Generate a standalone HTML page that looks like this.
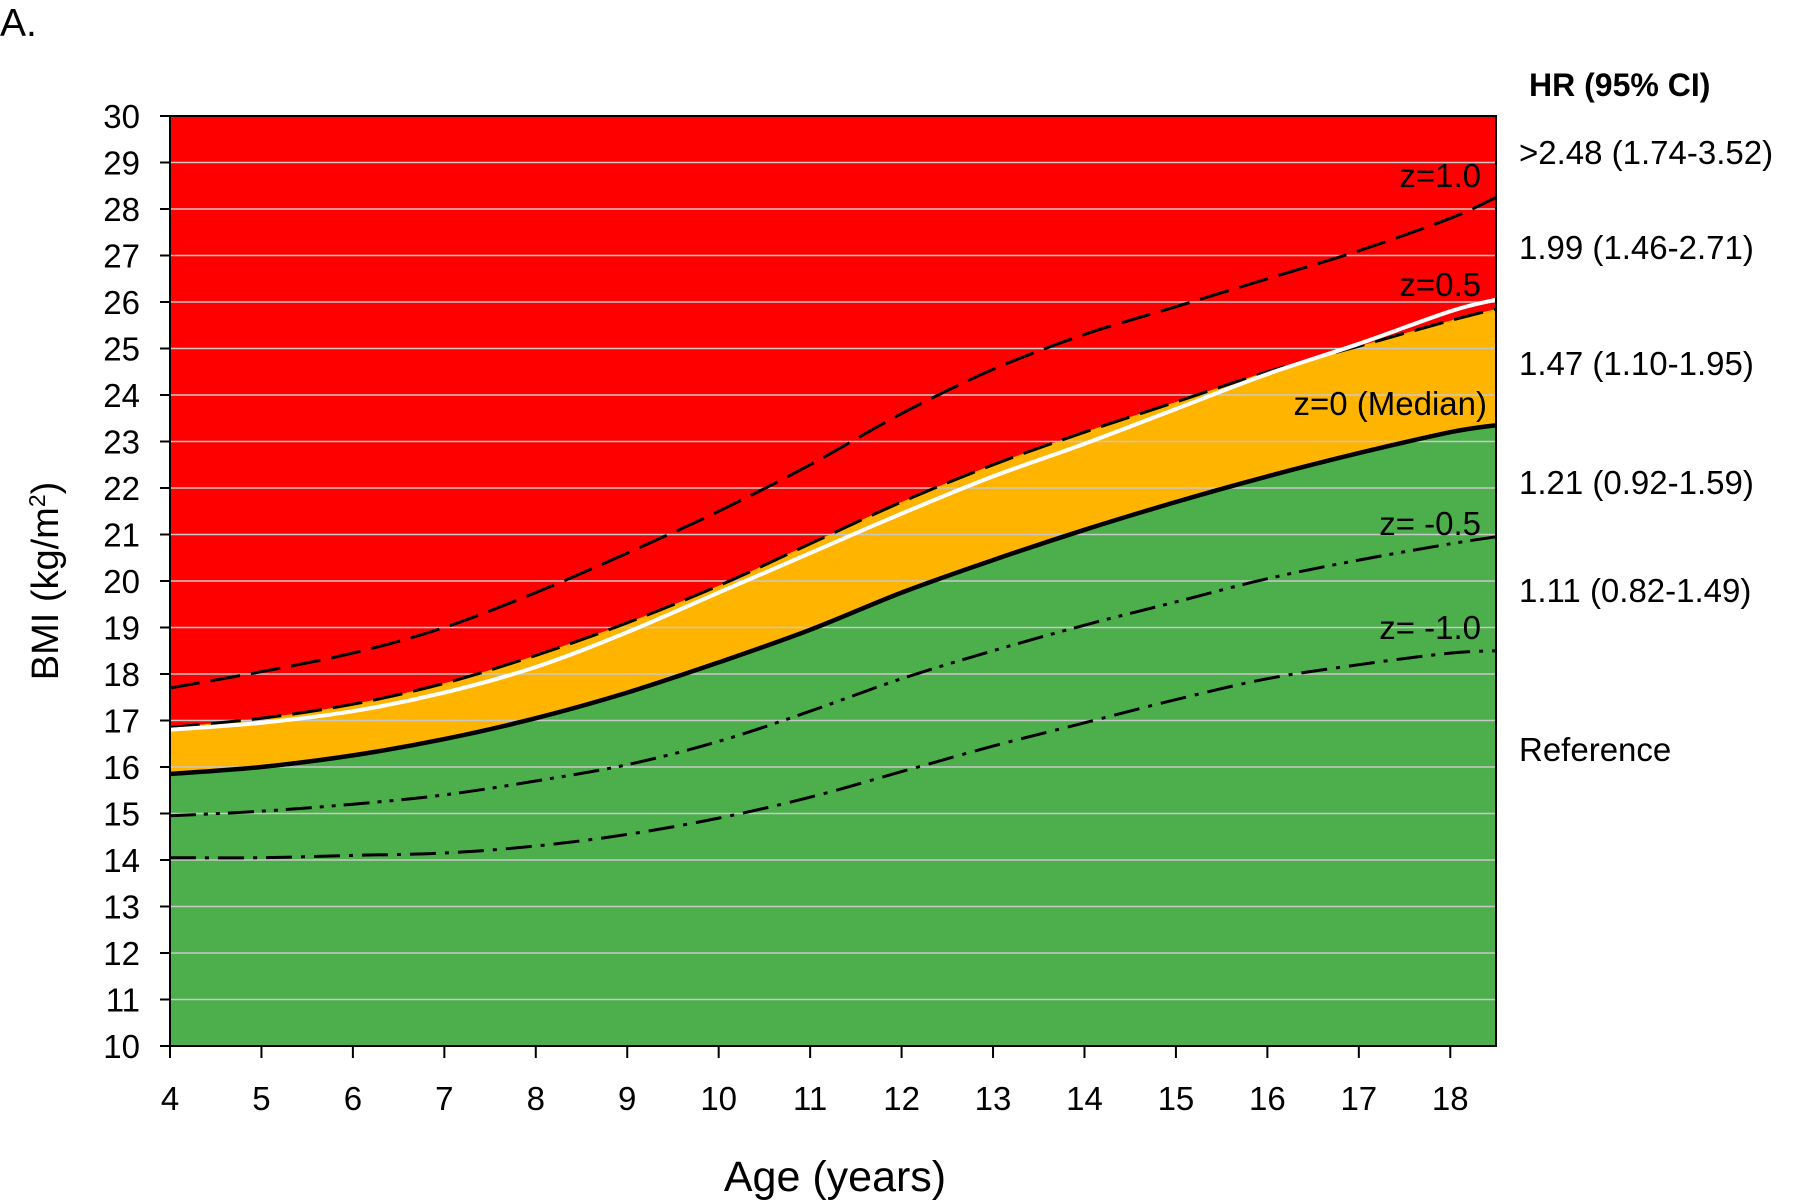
<!DOCTYPE html>
<html><head><meta charset="utf-8"><style>
body{margin:0;background:#fff;}
svg{display:block;font-family:"Liberation Sans",Arial,sans-serif;}
</style></head><body>
<svg id="chart" width="1800" height="1202" viewBox="0 0 1800 1202" xmlns="http://www.w3.org/2000/svg">
<text x="0" y="36" font-size="39">A.</text>
<g id="plot"></g>
<text transform="translate(58,581) rotate(-90)" text-anchor="middle" font-size="38">BMI (kg/m<tspan baseline-shift="super" font-size="23">2</tspan>)</text>
<text x="835" y="1191" text-anchor="middle" font-size="43">Age (years)</text>
<text x="1529" y="96" font-size="32" font-weight="bold">HR (95% CI)</text>
<g id="hr" font-size="33"></g>
<g id="zlabels" font-size="33" text-anchor="end"></g>
</svg>
<script>
const ages=[4,5,6,7,8,9,10,11,12,13,14,15,16,17,18,18.5];
const zMed=[15.85,16.0,16.25,16.6,17.05,17.6,18.25,18.95,19.75,20.45,21.1,21.7,22.25,22.75,23.2,23.35];
const zP05=[16.85,17.05,17.35,17.8,18.4,19.1,19.9,20.8,21.7,22.5,23.2,23.85,24.5,25.05,25.6,25.85];
const whiteLine=[16.8,16.95,17.2,17.6,18.15,18.9,19.75,20.6,21.45,22.25,22.95,23.7,24.45,25.1,25.8,26.05];
const zP10=[17.7,18.05,18.45,19.0,19.75,20.6,21.5,22.5,23.6,24.55,25.3,25.9,26.5,27.1,27.8,28.25];
const zM05=[14.95,15.05,15.2,15.4,15.7,16.05,16.55,17.2,17.9,18.5,19.05,19.55,20.05,20.45,20.8,20.95];
const zM10=[14.05,14.05,14.1,14.15,14.3,14.55,14.9,15.35,15.9,16.45,16.95,17.45,17.9,18.2,18.45,18.5];
const yTicks=[10,11,12,13,14,15,16,17,18,19,20,21,22,23,24,25,26,27,28,29,30];
const xTicks=[4,5,6,7,8,9,10,11,12,13,14,15,16,17,18];
const hrLabels=[">2.48 (1.74-3.52)","1.99 (1.46-2.71)","1.47 (1.10-1.95)","1.21 (0.92-1.59)","1.11 (0.82-1.49)","Reference"];
const hrY=[152,247,363,482,590,749];
const zNames=["z=1.0","z=0.5","z=0 (Median)","z= -0.5","z= -1.0"];
const zNameY=[175,284,403,523,627];

const L=170,R=1496,T=116,B=1046;
const X=a=>L+(a-4)*(R-L)/14.5;
const Y=v=>B-(v-10)*(B-T)/20;
const NS="http://www.w3.org/2000/svg";
const g=document.getElementById('plot');
function mk(tag,attrs,parent){const e=document.createElementNS(NS,tag);for(const k in attrs)e.setAttribute(k,attrs[k]);(parent||g).appendChild(e);return e;}
function smooth(arr){
  const P=ages.map((a,i)=>[X(a),Y(arr[i])]);
  let d='M'+P[0][0].toFixed(1)+','+P[0][1].toFixed(1);
  for(let i=0;i<P.length-1;i++){
    const p0=P[Math.max(0,i-1)],p1=P[i],p2=P[i+1],p3=P[Math.min(P.length-1,i+2)];
    const c1=[p1[0]+(p2[0]-p0[0])/6,p1[1]+(p2[1]-p0[1])/6];
    const c2=[p2[0]-(p3[0]-p1[0])/6,p2[1]-(p3[1]-p1[1])/6];
    d+=' C'+c1.map(v=>v.toFixed(1)).join(',')+' '+c2.map(v=>v.toFixed(1)).join(',')+' '+p2[0].toFixed(1)+','+p2[1].toFixed(1);
  }
  return d;
}
let e=mk('rect',{x:L,y:T,width:R-L,height:B-T,fill:'#ff0000'});


e=mk('path',{d:smooth(zP05)+' L'+R+','+B+' L'+L+','+B+' Z',fill:'#ffb400'});


e=mk('path',{d:smooth(zMed)+' L'+R+','+B+' L'+L+','+B+' Z',fill:'#4caf4c'});


yTicks.forEach(v=>{if(v>10&&v<30){const l=mk('line',{x1:L,x2:R,y1:Y(v),y2:Y(v),stroke:'#c8c8c8','stroke-width':1.5});

}});
function curve(arr,name,color,w,dash){const p=mk('path',{d:smooth(arr),fill:'none',stroke:color,'stroke-width':w});if(dash)p.setAttribute('stroke-dasharray',dash);

}
curve(zP10,'z-1.0-line','#000',3,'30 11');
curve(zP05,'z-0.5-line','#000',3,'30 11');
curve(whiteLine,'white-line','#fff',4,null);
curve(zMed,'median-line','#000',4.5,null);
curve(zM05,'z-minus-0.5-line','#000',3,'26 8 4 8 4 8');
curve(zM10,'z-minus-1.0-line','#000',3,'26 9 4 9');
e=mk('rect',{x:L,y:T,width:R-L,height:B-T,fill:'none',stroke:'#000','stroke-width':2});


yTicks.forEach(v=>{const t=mk('line',{x1:L-10,x2:L,y1:Y(v),y2:Y(v),stroke:'#000','stroke-width':2});


const tx=mk('text',{x:L-30,y:Y(v)+12,'text-anchor':'end','font-size':33});tx.textContent=v;

});
xTicks.forEach(v=>{const t=mk('line',{x1:X(v),x2:X(v),y1:B,y2:B+12,stroke:'#000','stroke-width':2});


const tx=mk('text',{x:X(v),y:B+64,'text-anchor':'middle','font-size':33});tx.textContent=v;

});
const hg=document.getElementById('hr');
hrLabels.forEach((s,i)=>{const t=mk('text',{x:1519,y:hrY[i]+12},hg);t.textContent=s;

});
const zg=document.getElementById('zlabels');
zNames.forEach((s,i)=>{const t=mk('text',{x:i==2?1487:1481,y:zNameY[i]+12},zg);t.textContent=s;

});
</script>
</body></html>
